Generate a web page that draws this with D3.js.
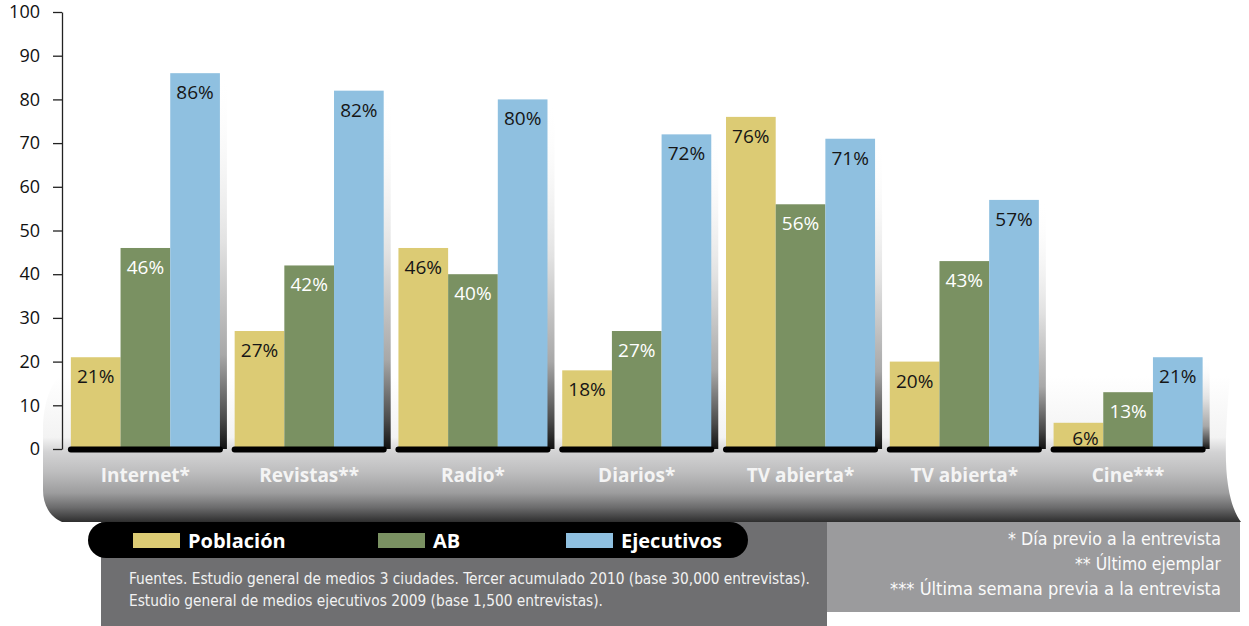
<!DOCTYPE html>
<html>
<head>
<meta charset="utf-8">
<script src="https://cdn.jsdelivr.net/npm/d3@7"></script>
<style>
  html, body { margin: 0; padding: 0; background: #fff; }
  svg { display: block; }
</style>
</head>
<body>
<svg id="chart" width="1249" height="626"></svg>
<script>
// Media reach by audience segment (%)
const categories = ["Internet*", "Revistas**", "Radio*", "Diarios*", "TV abierta*", "TV abierta*", "Cine***"];
const seriesNames = ["Población", "AB", "Ejecutivos"];
const poblacion  = [21, 27, 46, 18, 76, 20, 6];
const ab         = [46, 42, 40, 27, 56, 43, 13];
const ejecutivos = [86, 82, 80, 72, 71, 57, 21];
const yTicks = [0, 10, 20, 30, 40, 50, 60, 70, 80, 90, 100];
const sourceLines = [
  "Fuentes. Estudio general de medios 3 ciudades. Tercer acumulado 2010 (base 30,000 entrevistas).",
  "Estudio general de medios ejecutivos 2009 (base 1,500 entrevistas)."
];
const noteLines = [
  "* Día previo a la entrevista",
  "** Último ejemplar",
  "*** Última semana previa a la entrevista"
];

const seriesValues = [poblacion, ab, ejecutivos];
const colors = ["#dccb74", "#7a9162", "#8fc0e0"];
const labelColors = ["#161616", "#ffffff", "#161616"];

const svg = d3.select("#chart");
const defs = svg.append("defs");

// Gradients
const ribbonGrad = defs.append("linearGradient")
  .attr("id", "ribbonGrad").attr("gradientUnits", "userSpaceOnUse")
  .attr("x1", 0).attr("x2", 0).attr("y1", 376).attr("y2", 522);
[[0, "#ffffff"], [0.42, "#f3f3f3"], [0.52, "#d3d3d4"], [0.66, "#bdbdbe"],
 [0.8, "#9d9d9e"], [0.9, "#6c6c6d"], [1, "#2e2e2e"]]
  .forEach(([o, c]) => ribbonGrad.append("stop").attr("offset", o).attr("stop-color", c));

const shadeGrad = defs.append("linearGradient")
  .attr("id", "shadeGrad").attr("x1", 0).attr("x2", 0).attr("y1", 0).attr("y2", 1);
[[0, "#ffffff", 0], [0.45, "#e2e2e2", 1], [0.75, "#a8a8a8", 1], [0.92, "#4a4a4a", 1], [1, "#111111", 1]]
  .forEach(([o, c, a]) => shadeGrad.append("stop").attr("offset", o)
    .attr("stop-color", c).attr("stop-opacity", a));

// Scales
const y = d3.scaleLinear().domain([0, 100]).range([449, 12]);
const x0 = d3.scaleBand().domain(d3.range(categories.length))
  .range([63.5, 1210]).paddingInner(0.09).paddingOuter(0.045);
const x1 = d3.scaleBand().domain(d3.range(seriesNames.length))
  .range([0, x0.bandwidth()]);

// Curved base ribbon under the bars
svg.append("path")
  .attr("d", "M60,376 L1230,376 C1226,420 1224,460 1228,485 C1231,505 1236,515 1241,522 " +
             "L62,522 C50,517 43,505 43,490 L43,430 C43,405 50,385 60,376 Z")
  .attr("fill", "url(#ribbonGrad)");

// Footer panels
svg.append("rect").attr("x", 101).attr("y", 522).attr("width", 726).attr("height", 104).attr("fill", "#6f6f71");
svg.append("rect").attr("x", 827).attr("y", 522).attr("width", 413).attr("height", 90).attr("fill", "#9b9b9d");

// Y axis
const yAxis = d3.axisLeft(y).tickValues(yTicks).tickSize(9).tickSizeOuter(0).tickPadding(13);
const gy = svg.append("g").attr("transform", "translate(62,0)").call(yAxis);
gy.select(".domain").attr("stroke", "#222").attr("stroke-width", 1.3);
gy.selectAll(".tick line").attr("stroke", "#222").attr("stroke-width", 1.3);
gy.selectAll(".tick text")
  .attr("font-family", "'Open Sans', sans-serif").attr("font-size", 18)
  .attr("fill", "#111");

// Groups
const groups = svg.append("g").selectAll("g.group")
  .data(categories.map((c, i) => ({ name: c, i })))
  .join("g").attr("class", "group")
  .attr("transform", d => `translate(${x0(d.i)},0)`);

// Soft shadow on the right side of each group
groups.append("rect")
  .attr("x", x0.bandwidth() - 1)
  .attr("y", d => y(ejecutivos[d.i]))
  .attr("width", 8)
  .attr("height", d => y(0) - y(ejecutivos[d.i]))
  .attr("fill", "url(#shadeGrad)");

// Bars
groups.selectAll("rect.bar")
  .data(d => seriesValues.map((vals, s) => ({ s, v: vals[d.i] })))
  .join("rect").attr("class", "bar")
  .attr("x", d => x1(d.s))
  .attr("y", d => y(d.v))
  .attr("width", x1.bandwidth())
  .attr("height", d => y(0) - y(d.v))
  .attr("fill", d => colors[d.s]);

// Value labels
groups.selectAll("text.val")
  .data(d => seriesValues.map((vals, s) => ({ s, v: vals[d.i] })))
  .join("text").attr("class", "val")
  .attr("x", d => x1(d.s) + x1.bandwidth() / 2 + (d.v < 10 ? 7 : 0))
  .attr("y", d => Math.min(y(d.v) + 26, 445))
  .attr("text-anchor", "middle")
  .attr("font-family", "'Open Sans', sans-serif").attr("font-size", 19)
  .attr("fill", d => labelColors[d.s])
  .text(d => d.v + "%");

// Black base strip per group
groups.append("rect")
  .attr("x", -3).attr("y", 446.5)
  .attr("width", x0.bandwidth() + 6).attr("height", 6)
  .attr("rx", 3).attr("fill", "#000");

// Category labels
groups.append("text")
  .attr("x", x0.bandwidth() / 2).attr("y", 482)
  .attr("text-anchor", "middle")
  .attr("font-family", "'Open Sans', sans-serif").attr("font-size", 19)
  .attr("font-weight", "bold").attr("fill", "#f4f4f4")
  .text(d => d.name);

// Legend pill
svg.append("rect").attr("x", 88).attr("y", 522).attr("width", 660).attr("height", 36)
  .attr("rx", 18).attr("fill", "#000");
const legendX = [133, 378, 566];
const legend = svg.append("g").selectAll("g")
  .data(seriesNames.map((n, s) => ({ n, s })))
  .join("g").attr("transform", d => `translate(${legendX[d.s]},533)`);
legend.append("rect").attr("width", 47).attr("height", 15).attr("fill", d => colors[d.s]);
legend.append("text").attr("x", 55).attr("y", 15)
  .attr("font-family", "'Open Sans', sans-serif").attr("font-size", 20)
  .attr("font-weight", "bold").attr("fill", "#fff")
  .text(d => d.n);

// Source text
const narrow = "'Liberation Sans Narrow', 'DejaVu Sans Condensed', sans-serif";
const srcWidths = [681, 474];
svg.append("g").selectAll("text").data(sourceLines).join("text")
  .attr("x", 129).attr("y", (d, i) => 584 + i * 22)
  .attr("font-family", narrow).attr("font-size", 15.5).attr("fill", "#f2f2f2")
  .attr("textLength", (d, i) => srcWidths[i]).attr("lengthAdjust", "spacingAndGlyphs")
  .text(d => d);

// Footnotes
const noteWidths = [213, 146, 331];
svg.append("g").selectAll("text").data(noteLines).join("text")
  .attr("x", 1221).attr("y", (d, i) => 545 + i * 25)
  .attr("text-anchor", "end")
  .attr("font-family", narrow).attr("font-size", 18.5).attr("fill", "#fafafa")
  .attr("textLength", (d, i) => noteWidths[i]).attr("lengthAdjust", "spacingAndGlyphs")
  .text(d => d);
</script>
</body>
</html>
